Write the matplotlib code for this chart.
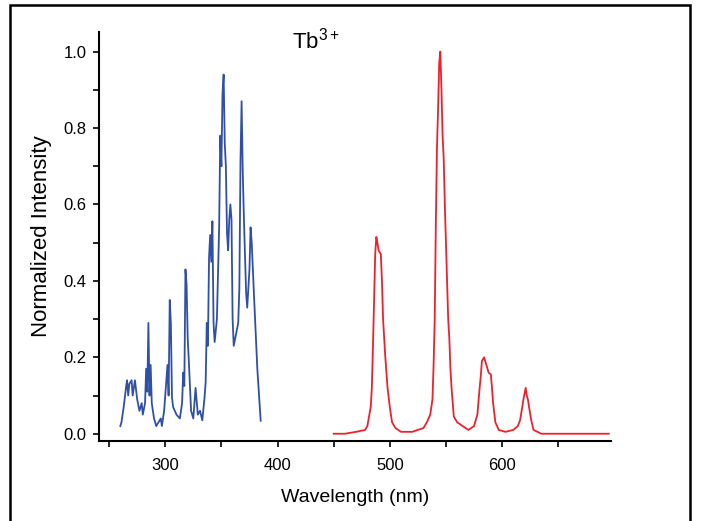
import matplotlib
matplotlib.use("Agg")
import matplotlib.pyplot as plt
from matplotlib.patches import Rectangle
from matplotlib.ticker import MultipleLocator

plt.rcParams['font.family'] = ['Liberation Sans', 'DejaVu Sans']
plt.rcParams['mathtext.fontset'] = 'custom'
plt.rcParams['mathtext.rm'] = 'Liberation Sans'

# Excitation spectrum (blue)
exc_wl = [260, 261, 263, 265, 266, 267, 268, 270, 271, 273, 275, 277, 279, 280,
          282, 283, 284, 285, 286, 287, 288, 290, 292, 294, 296, 297, 299, 302,
          303, 304, 305, 306, 307, 310, 313, 315, 316, 317, 318, 319, 320, 321,
          323, 325, 327, 329, 331, 333, 335, 336, 337, 338, 339, 340, 341, 342,
          343, 344, 346, 348, 349, 350, 351, 352, 353, 354, 355, 356, 357, 358,
          359, 360, 361, 363, 365, 366, 367, 368, 369, 370, 372, 373, 375, 376,
          377, 379, 380, 382, 383, 385]
exc_int = [0.02, 0.03, 0.07, 0.12, 0.14, 0.10, 0.13, 0.14, 0.10, 0.14, 0.09, 0.06, 0.08, 0.05,
           0.08, 0.17, 0.11, 0.29, 0.10, 0.18, 0.08, 0.04, 0.02, 0.03, 0.04, 0.02, 0.06, 0.18,
           0.10, 0.35, 0.29, 0.095, 0.07, 0.05, 0.04, 0.08, 0.16, 0.125, 0.43, 0.39, 0.25, 0.19,
           0.06, 0.04, 0.12, 0.05, 0.06, 0.035, 0.095, 0.135, 0.29, 0.23, 0.46, 0.52, 0.45, 0.556,
           0.29, 0.24, 0.30, 0.54, 0.78, 0.70, 0.89, 0.94, 0.76, 0.70, 0.525, 0.48, 0.56, 0.60,
           0.56, 0.30, 0.23, 0.26, 0.29, 0.38, 0.71, 0.87, 0.69, 0.57, 0.37, 0.33, 0.43, 0.54,
           0.50, 0.365, 0.30, 0.17, 0.125, 0.034]

# Emission spectrum (red)
emi_wl = [450, 460, 470, 478, 480, 483, 484, 485, 486, 487, 488, 489, 490, 492,
          493, 494, 495, 496, 497, 498, 500, 502, 505, 510, 520, 530, 533, 536,
          538, 539, 540, 541, 542, 543, 544, 545, 546, 547, 548, 549, 550, 551,
          552, 553, 554, 555, 557, 560, 565, 570, 575, 578, 580, 581, 582, 584,
          586, 588, 590, 591, 592, 594, 597, 603, 610, 614, 616, 618, 619, 621,
          622, 623, 624, 626, 628, 635, 650, 670, 695]
emi_int = [0.0, 0.0, 0.005, 0.01, 0.02, 0.07, 0.12, 0.23, 0.35, 0.47, 0.515, 0.50, 0.48, 0.47,
           0.40, 0.30, 0.25, 0.20, 0.16, 0.12, 0.07, 0.03, 0.015, 0.005, 0.005, 0.015, 0.03, 0.05,
           0.09, 0.18, 0.30, 0.55, 0.75, 0.85, 0.97, 1.0, 0.90, 0.78, 0.72, 0.60, 0.50, 0.40,
           0.30, 0.25, 0.17, 0.12, 0.045, 0.03, 0.02, 0.01, 0.02, 0.05, 0.12, 0.15, 0.19, 0.20,
           0.18, 0.16, 0.155, 0.12, 0.08, 0.03, 0.01, 0.005, 0.01, 0.02, 0.035, 0.07, 0.09, 0.12,
           0.10, 0.09, 0.07, 0.035, 0.01, 0.0, 0.0, 0.0, 0.0]

x_ticks = [300, 400, 500, 600]
y_ticks = [0.0, 0.2, 0.4, 0.6, 0.8, 1.0]

fig = plt.figure(figsize=(7.01, 5.21), dpi=100)
ax = fig.add_axes([99 / 701, 1 - 441 / 521, 512 / 701, (441 - 31.7) / 521])

ax.plot(exc_wl, exc_int, color='#3050A8', lw=1.3)
ax.plot(emi_wl, emi_int, color='#F0202A', lw=1.3)

ax.set_xlim(241, 697)
ax.set_ylim(-0.019, 1.052)
ax.set_xticks(x_ticks)
ax.set_yticks(y_ticks)
ax.set_yticklabels([f"{v:.1f}" for v in y_ticks])
ax.xaxis.set_minor_locator(MultipleLocator(50))
ax.yaxis.set_minor_locator(MultipleLocator(0.1))
ax.tick_params(which='both', direction='out', length=4, width=1.2)
ax.tick_params(axis='x', labelsize=12, pad=8)
ax.tick_params(axis='y', labelsize=12, pad=5)

for s in ['top', 'right']:
    ax.spines[s].set_visible(False)
for s in ['left', 'bottom']:
    ax.spines[s].set_linewidth(1.5)

ax.set_xlabel('Wavelength (nm)', fontsize=14, labelpad=12)
ax.set_ylabel('Normalized Intensity', fontsize=16, labelpad=8)

fig.text(316 / 701, 1 - 48 / 521, 'Tb$^{3+}$', fontsize=16, ha='center', va='baseline')

fig.patches.append(Rectangle((10 / 701, -0.05), 680 / 701, 1.05 - 5 / 521,
                             transform=fig.transFigure, fill=False,
                             edgecolor='black', linewidth=1.8))

fig.savefig('out.png', dpi=100)
